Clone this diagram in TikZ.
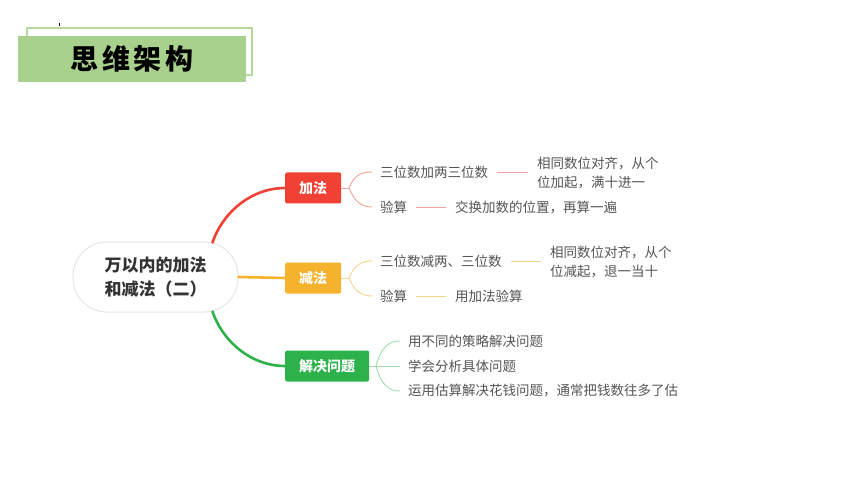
\documentclass[tikz,border=0pt]{standalone}
\usepackage{fontspec}
\newfontfamily\cjk{Noto Sans CJK SC}
\usetikzlibrary{calc}
\definecolor{tfill}{HTML}{A9D18E}
\definecolor{tline}{HTML}{B5DBA0}
\definecolor{cred}{HTML}{F04134}
\definecolor{corange}{HTML}{F5B22D}
\definecolor{cgreen}{HTML}{2DB14B}
\definecolor{lred}{HTML}{F3A29B}
\definecolor{lorange}{HTML}{F7D48E}
\definecolor{lgreen}{HTML}{9FDCAE}
\definecolor{ctext}{HTML}{555555}
\definecolor{ctitle}{HTML}{333333}
\begin{document}
\begin{tikzpicture}[x=1pt,y=-1pt,
  branchbox/.style={anchor=west,rounded corners=2pt,text=white,inner xsep=14pt,inner ysep=0pt,minimum height=31pt,font=\cjk\bfseries\fontsize{14}{16}\selectfont},
  leaf/.style={anchor=west,inner sep=0pt,text=ctext,align=left,font=\cjk\fontsize{13.5}{19}\selectfont},
  mainline/.style={line width=2.6pt,line cap=round},
  twig/.style={line width=0.9pt},
  bar/.style={line width=0.9pt,shorten <=9pt,shorten >=9pt}]
\useasboundingbox (0,0) rectangle (860,484);
\fill[white] (0,0) rectangle (860,484);
% title
\draw[tline,line width=1.2pt] (27,28) rectangle (252,75);
\fill[tfill] (18,36) rectangle (246,82);
\node (title) at (132,59) {\cjk\bfseries\fontsize{28}{30}\selectfont 思\hspace{3.5pt}维\hspace{3.5pt}架\hspace{3.5pt}构};
\draw[line width=0.6pt] (59,23.5) -- (59,26.5);
% central node
\node[draw=black!10,line width=1pt,fill=white,rounded corners=34pt,minimum width=165pt,minimum height=70pt,text=ctitle,align=left,font=\cjk\bfseries\fontsize{17}{24}\selectfont] (c) at (155.5,277) {万以内的加法\\和减法（二）};
% branches
\node[branchbox,fill=cred] (jia) at (285,188) {加法};
\node[branchbox,fill=corange] (jian) at (285,278) {减法};
\node[branchbox,fill=cgreen] (jj) at (285,366) {解决问题};
\draw[mainline,cred] ($(c.north)+(57,1)$) .. controls (222,214) and (250,188) .. (jia.west);
\draw[mainline,corange] (c.east) -- (jian.west);
\draw[mainline,cgreen] ($(c.south)+(57,-1)$) .. controls (222,340) and (250,366) .. (jj.west);
% addition leaves
\node[leaf] (a1) at (380,172) {三位数加两三位数};
\node[leaf] (a2) at (537,173) {相同数位对齐，从个\\位加起，满十进一};
\node[leaf] (a3) at (380,207) {验算};
\node[leaf] (a4) at (455,207) {交换加数的位置，再算一遍};
\coordinate (fa) at (349,188);
\draw[twig,lred] (jia.east) -- (fa);
\draw[twig,lred] (fa) .. controls +(5,-12) and +(-12,0) .. ([xshift=-8pt]a1.west);
\draw[twig,lred] (fa) .. controls +(5,12) and +(-12,0) .. ([xshift=-8pt]a3.west);
\draw[bar,lred] (a1.east) -- (a1.east -| a2.west);
\draw[bar,lred] (a3.east) -- (a4.west);
% subtraction leaves
\node[leaf] (b1) at (380,261) {三位数减两、三位数};
\node[leaf] (b2) at (550,262) {相同数位对齐，从个\\位减起，退一当十};
\node[leaf] (b3) at (380,296) {验算};
\node[leaf] (b4) at (455,296) {用加法验算};
\coordinate (fb) at (349,278);
\draw[twig,lorange] (jian.east) -- (fb);
\draw[twig,lorange] (fb) .. controls +(5,-12) and +(-12,0) .. ([xshift=-8pt]b1.west);
\draw[twig,lorange] (fb) .. controls +(5,12) and +(-12,0) .. ([xshift=-8pt]b3.west);
\draw[bar,lorange] (b1.east) -- (b1.east -| b2.west);
\draw[bar,lorange] (b3.east) -- (b4.west);
% problem solving leaves
\node[leaf] (g1) at (408,341) {用不同的策略解决问题};
\node[leaf] (g2) at (408,366) {学会分析具体问题};
\node[leaf] (g3) at (408,391) {运用估算解决花钱问题，通常把钱数往多了估};
\coordinate (fg) at (376,366);
\draw[twig,lgreen] (jj.east) -- (fg);
\draw[twig,lgreen] (fg) .. controls +(5,-18) and +(-12,0) .. ([xshift=-8pt]g1.west);
\draw[twig,lgreen] (fg) -- ([xshift=-8pt]g2.west);
\draw[twig,lgreen] (fg) .. controls +(5,18) and +(-12,0) .. ([xshift=-8pt]g3.west);
\end{tikzpicture}
\end{document}
